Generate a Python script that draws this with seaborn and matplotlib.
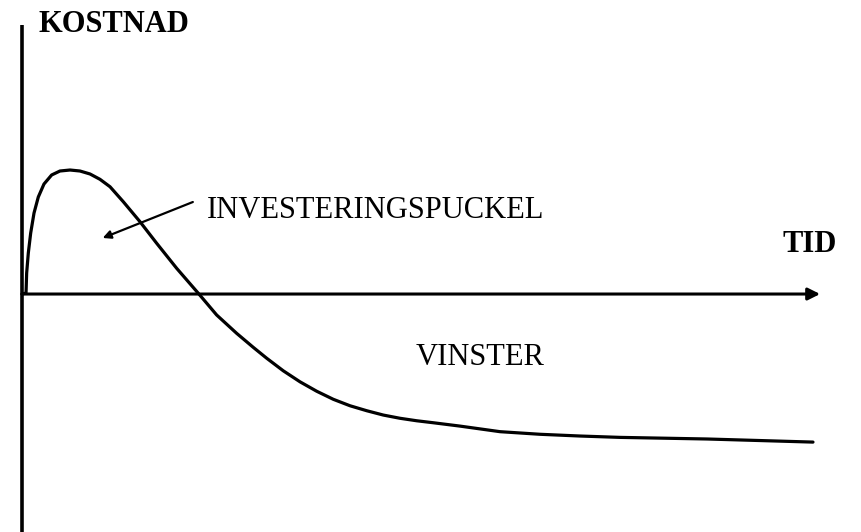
import matplotlib
matplotlib.use("Agg")
import matplotlib.pyplot as plt
import seaborn as sns
import pandas as pd

# Data (time units, cost units; hump peak = 100)
tid = [0.0, 0.51, 0.59, 0.80, 1.10, 1.52, 2.06, 2.78, 3.75, 4.80, 6.07, 7.33,
       8.60, 9.86, 11.13, 12.81, 14.92, 17.03, 19.56, 22.29, 24.61, 27.14,
       29.24, 30.94, 33.03, 35.15, 37.26, 39.36, 41.47, 43.58, 45.68, 47.79,
       49.90, 52.00, 55.37, 60.43, 65.49, 70.54, 75.60, 86.60, 100.0]
kostnad = [0.0, 0.8, 16.9, 33.1, 49.2, 65.3, 78.2, 88.7, 96.0, 99.2, 100.0, 99.2,
           96.8, 92.5, 86.5, 74.4, 58.3, 40.9, 20.7, 0.6, -16.9, -31.7,
           -43.0, -51.8, -61.9, -70.8, -78.4, -84.9, -90.1, -94.1, -97.6, -100.2,
           -102.2, -103.8, -106.5, -111.0, -113.1, -114.5, -115.6, -116.9, -119.4]

x_label = "TID"
y_label = "KOSTNAD"
hump_label = "INVESTERINGSPUCKEL"
profit_label = "VINSTER"

df = pd.DataFrame({"tid": tid, "kostnad": kostnad})

sns.set_theme(style="white")
plt.rcParams["font.family"] = ["Liberation Serif", "DejaVu Serif"]

fig = plt.figure(figsize=(8.61, 5.32), dpi=100)
ax = fig.add_axes([0, 0, 1, 1])
ax.set_axis_off()

sns.lineplot(data=df, x="tid", y="kostnad", ax=ax, color="black", lw=2.3,
             sort=False, estimator=None, solid_joinstyle="round",
             solid_capstyle="round")

# limits chosen so origin sits where the reference has it
ax.set_xlim(-2.78, 106.07)
ax.set_ylim(-191.9, 237.1)

# vertical axis
ax.plot([0, 0], [-191.9, 216.9], color="black", lw=2.6, solid_capstyle="butt")
# horizontal axis with arrow
ax.annotate("", xy=(100.9, 0), xytext=(0, 0),
            arrowprops=dict(arrowstyle="-|>", lw=2.2, color="black",
                            mutation_scale=18, shrinkA=0, shrinkB=0))

# pointer arrow
ax.annotate("", xy=(10.2, 45.2), xytext=(21.6, 74.2),
            arrowprops=dict(arrowstyle="-|>", lw=1.6, color="black",
                            mutation_scale=12, shrinkA=0, shrinkB=0))

fs = 22
ax.text(2.15, 211.3, y_label, fontsize=fs, fontweight="bold", ha="left",
        va="baseline", color="black")
ax.text(96.2, 33.9, x_label, fontsize=fs, fontweight="bold", ha="left",
        va="baseline", color="black")
ax.text(23.4, 61.3, hump_label, fontsize=fs, ha="left", va="baseline",
        color="black")
ax.text(49.8, -57.3, profit_label, fontsize=fs, ha="left", va="baseline",
        color="black")

fig.savefig("out.png", dpi=100, facecolor="white")
